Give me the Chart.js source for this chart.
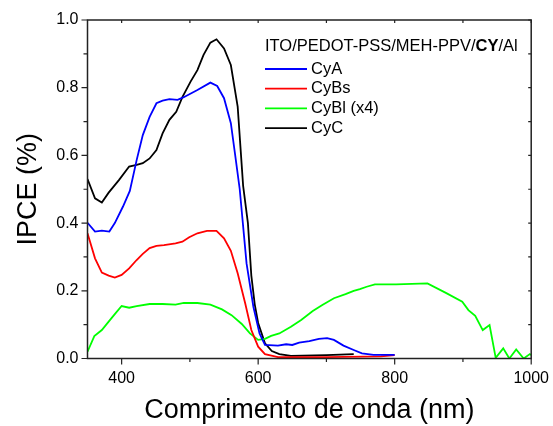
<!DOCTYPE html>
<html>
<head>
<meta charset="utf-8">
<script src="https://cdn.jsdelivr.net/npm/chart.js@4/dist/chart.umd.min.js"></script>
<style>
  html, body { margin: 0; padding: 0; background: #fff; }
  #wrap { width: 553px; height: 426px; }
</style>
</head>
<body>
<div id="wrap"><canvas id="ipce" width="553" height="426"></canvas></div>
<script>
// data (wavelength in nm, IPCE in %)
const cyaNm   = [350, 361, 371, 382, 390, 402, 412, 422, 431, 441, 451, 460, 470, 482, 491, 511, 530, 540, 550, 560, 566, 573, 583, 593, 602, 610, 629, 641, 650, 660, 675, 689, 701, 711, 725, 740, 752, 769, 800];
const cyaVals = [0.401, 0.375, 0.378, 0.375, 0.400, 0.449, 0.495, 0.586, 0.660, 0.714, 0.754, 0.762, 0.766, 0.764, 0.772, 0.793, 0.815, 0.805, 0.769, 0.695, 0.606, 0.500, 0.281, 0.153, 0.074, 0.040, 0.038, 0.042, 0.040, 0.047, 0.051, 0.058, 0.060, 0.055, 0.038, 0.025, 0.015, 0.011, 0.011];

const cybsNm   = [350, 361, 371, 381, 390, 400, 411, 422, 431, 441, 451, 462, 479, 489, 499, 511, 525, 539, 550, 560, 570, 581, 590, 600, 610, 629, 700, 780, 800];
const cybsVals = [0.370, 0.296, 0.254, 0.245, 0.239, 0.247, 0.266, 0.291, 0.309, 0.326, 0.333, 0.335, 0.340, 0.345, 0.358, 0.370, 0.377, 0.377, 0.355, 0.318, 0.252, 0.163, 0.084, 0.035, 0.013, 0.004, 0.004, 0.006, 0.010];

const cyblNm   = [350, 360, 371, 381, 390, 400, 411, 422, 441, 460, 479, 491, 511, 530, 547, 561, 576, 588, 600, 610, 619, 631, 648, 663, 680, 694, 711, 728, 740, 749, 759, 771, 802, 848, 875, 899, 908, 918, 929, 939, 948, 959, 968, 978, 989, 998, 1000];
const cyblVals = [0.020, 0.066, 0.084, 0.109, 0.131, 0.155, 0.150, 0.155, 0.161, 0.161, 0.159, 0.164, 0.164, 0.159, 0.145, 0.128, 0.102, 0.074, 0.055, 0.058, 0.067, 0.074, 0.094, 0.114, 0.140, 0.158, 0.178, 0.190, 0.200, 0.205, 0.212, 0.219, 0.219, 0.222, 0.194, 0.168, 0.143, 0.126, 0.084, 0.099, 0.002, 0.030, 0.000, 0.027, 0.000, 0.013, 0.010];

const cycNm   = [350, 361, 371, 381, 396, 411, 422, 431, 441, 451, 460, 470, 480, 489, 501, 511, 520, 530, 539, 550, 560, 570, 578, 585, 590, 595, 600, 610, 620, 631, 648, 700, 740];
const cycVals = [0.530, 0.473, 0.461, 0.490, 0.527, 0.567, 0.572, 0.577, 0.591, 0.616, 0.665, 0.705, 0.729, 0.772, 0.818, 0.852, 0.897, 0.933, 0.943, 0.916, 0.867, 0.744, 0.510, 0.400, 0.245, 0.160, 0.105, 0.045, 0.022, 0.013, 0.008, 0.010, 0.013];

const seriesNames = ["CyA", "CyBs", "CyBl (x4)", "CyC"];
const seriesColors = ["#0000ff", "#ff0000", "#00ff00", "#000000"];
const legendTitle = ["ITO/PEDOT-PSS/MEH-PPV/", "CY", "/Al"];

const xTicks = [400, 600, 800, 1000];
const yTicks = [0.0, 0.2, 0.4, 0.6, 0.8, 1.0];

function toPoints(xs, ys) {
    return xs.map((x, i) => ({ x: x, y: ys[i] }));
}

const allNm = [cyaNm, cybsNm, cyblNm, cycNm];
const allVals = [cyaVals, cybsVals, cyblVals, cycVals];

const datasets = seriesNames.map((name, i) => ({
    label: name,
    data: toPoints(allNm[i], allVals[i]),
    borderColor: seriesColors[i],
    backgroundColor: seriesColors[i],
    borderWidth: 1.8,
    pointRadius: 0,
    tension: 0,
    fill: false
}));

// frame, tick marks and the legend box are drawn by hand
const framePlugin = {
    id: "frame",
    afterDraw(chart) {
        const ctx = chart.ctx;
        const a = chart.chartArea;
        const xs = chart.scales.x;
        const ys = chart.scales.y;
        ctx.save();
        ctx.strokeStyle = "#222";
        ctx.lineWidth = 1.5;
        ctx.strokeRect(a.left, a.top, a.right - a.left, a.bottom - a.top);

        ctx.lineWidth = 1.2;
        ctx.beginPath();
        for (let v = 400; v <= 1000; v += 100) {
            const px = xs.getPixelForValue(v);
            const major = xTicks.includes(v);
            ctx.moveTo(px, a.bottom);
            ctx.lineTo(px, a.bottom + (major ? 6 : 3.5));
            ctx.moveTo(px, a.top);
            ctx.lineTo(px, a.top + 3);
        }
        for (let k = 0; k <= 10; k++) {
            const v = k / 10;
            const py = ys.getPixelForValue(v);
            const major = k % 2 === 0;
            ctx.moveTo(a.left, py);
            ctx.lineTo(a.left - (major ? 6 : 4), py);
            ctx.moveTo(a.right, py);
            ctx.lineTo(a.right - 3, py);
        }
        ctx.stroke();

        // legend
        const font = "16.5px 'Liberation Sans', Arial, sans-serif";
        const bold = "bold 16.5px 'Liberation Sans', Arial, sans-serif";
        ctx.textBaseline = "middle";
        ctx.fillStyle = "#000";
        let tx = 265;
        legendTitle.forEach((part, i) => {
            ctx.font = i === 1 ? bold : font;
            ctx.fillText(part, tx, 46.5);
            tx += ctx.measureText(part).width;
        });
        ctx.font = font;
        seriesNames.forEach((name, i) => {
            const y = 69 + i * 19.7;
            ctx.strokeStyle = seriesColors[i];
            ctx.lineWidth = 1.8;
            ctx.beginPath();
            ctx.moveTo(265, y);
            ctx.lineTo(307, y);
            ctx.stroke();
            ctx.fillText(name, 311, y);
        });
        ctx.restore();
    }
};

new Chart(document.getElementById("ipce"), {
    type: "line",
    data: { datasets: datasets },
    options: {
        responsive: false,
        animation: false,
        layout: { padding: { top: 20, right: 16, left: 0, bottom: 0 } },
        plugins: {
            legend: { display: false },
            tooltip: { enabled: false }
        },
        scales: {
            x: {
                type: "linear",
                min: 350,
                max: 1000,
                afterFit: (s) => { s.height = 67.5; },
                afterBuildTicks: (s) => { s.ticks = xTicks.map(v => ({ value: v })); },
                border: { display: false },
                grid: { drawOnChartArea: false, drawTicks: true, tickLength: 6, color: "rgba(0,0,0,0)" },
                ticks: {
                    color: "#000",
                    padding: 4,
                    maxRotation: 0,
                    callback: (v) => String(v),
                    font: { family: "'Liberation Sans', Arial, sans-serif", size: 16 }
                },
                title: {
                    display: true,
                    text: "Comprimento de onda (nm)",
                    color: "#000",
                    padding: { top: 0, bottom: -1 },
                    font: { family: "'Liberation Sans', Arial, sans-serif", size: 27 }
                }
            },
            y: {
                min: 0,
                max: 1,
                afterFit: (s) => { s.width = 87.5; },
                afterBuildTicks: (s) => { s.ticks = yTicks.map(v => ({ value: v })); },
                border: { display: false },
                grid: { drawOnChartArea: false, drawTicks: true, tickLength: 6, color: "rgba(0,0,0,0)" },
                ticks: {
                    color: "#000",
                    padding: 3,
                    callback: (v) => Number(v).toFixed(1),
                    font: { family: "'Liberation Sans', Arial, sans-serif", size: 16 }
                },
                title: {
                    display: true,
                    text: "IPCE (%)",
                    color: "#000",
                    padding: { top: 12, bottom: 0 },
                    font: { family: "'Liberation Sans', Arial, sans-serif", size: 27 }
                }
            }
        }
    },
    plugins: [framePlugin]
});
</script>
</body>
</html>
